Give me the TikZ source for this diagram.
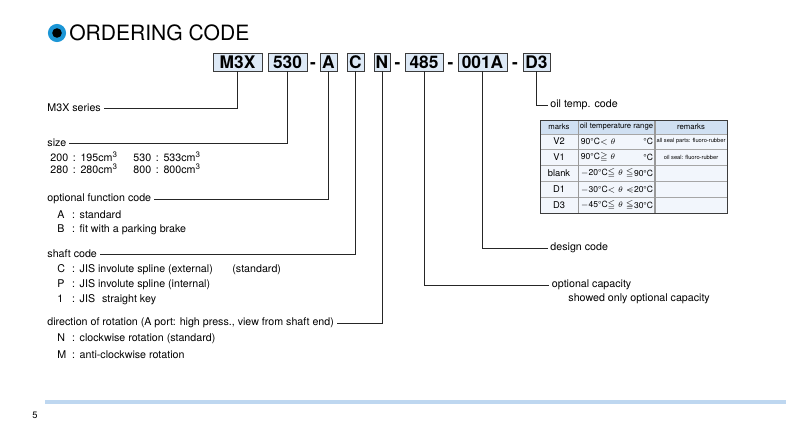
\documentclass[tikz,border=0pt]{standalone}
\usepackage{fontspec}
\usepackage{amssymb}
\setmainfont{TeX Gyre Heros}
\usetikzlibrary{calc}

\definecolor{titleblue}{RGB}{28,150,214}
\definecolor{boxblue}{RGB}{221,233,246}
\definecolor{headblue}{RGB}{208,224,242}
\definecolor{cellblue}{RGB}{242,246,252}
\definecolor{rulegray}{RGB}{60,60,60}
\definecolor{footblue}{RGB}{190,215,240}

\newcommand\coderow[2]{\makebox[11pt][l]{#1}:\hspace{3.5pt}#2}

\tikzset{
  codebox/.style={draw=rulegray, fill=boxblue, line width=0.6pt, minimum height=13.5pt,
    inner sep=0pt, text height=9.3pt, text depth=0pt, font=\fontsize{13}{13}\selectfont\bfseries},
  codedash/.style={inner sep=0pt, text height=9.3pt, text depth=0pt, font=\fontsize{13}{13}\selectfont\bfseries},
  heading/.style={anchor=west, inner xsep=2pt, inner ysep=1pt, font=\fontsize{8}{9.6}\selectfont},
  guide/.style={draw=black!85, line width=0.7pt},
  cell/.style={inner sep=0.5pt, font=\fontsize{7}{8}\selectfont},
  rangecell/.style={inner sep=0.5pt, font=\fontsize{6.4}{7}\selectfont},
  tinycell/.style={inner sep=0pt, font=\fontsize{4.3}{5}\selectfont},
}

\begin{document}
\begin{tikzpicture}[x=0.75pt, y=-0.75pt]
  \useasboundingbox (0,0) rectangle (786,429);

  % Title
  \fill[titleblue] (57,33) circle (6.8pt);
  \fill[black] (57,33) circle (3.6pt);
  \node[anchor=west, inner sep=0pt, font=\fontsize{15.8}{16}\selectfont] (title) at (69,33) {ORDERING CODE};

  % Code boxes
  \node[codebox, minimum width=36.75pt] (m3x)  at (237.5,62) {M3X};
  \node[codebox, minimum width=29.25pt] (size) at (287.5,62) {530};
  \node[codedash] (dashA) at (313,62) {-};
  \node[codebox, minimum width=12.75pt] (optf) at (328.5,62) {A};
  \node[codebox, minimum width=12.75pt] (shaft) at (355.5,62) {C};
  \node[codebox, minimum width=12pt]    (rot)  at (382,62) {N};
  \node[codedash] (dashB) at (397.5,62) {-};
  \node[codebox, minimum width=28.5pt]  (cap)  at (424,62) {485};
  \node[codedash] (dashC) at (450.5,62) {-};
  \node[codebox, minimum width=36.75pt] (design) at (482.5,62) {001A};
  \node[codedash] (dashD) at (515,62) {-};
  \node[codebox, minimum width=20.25pt] (oil)  at (536.5,62) {D3};

  % Left descriptions
  \node[heading] (series) at (44.5,108) {M3X series};
  \node[heading] (sizehd) at (44.5,143) {size};
  \node[heading] (sz1) at (47.5,157) {200\hspace{3.5pt}:\hspace{3.5pt}195cm\textsuperscript{3}};
  \node[heading] (sz2) at (47.5,169) {280\hspace{3.5pt}:\hspace{3.5pt}280cm\textsuperscript{3}};
  \node[heading] (sz3) at (130.5,157) {530\hspace{3.5pt}:\hspace{3.5pt}533cm\textsuperscript{3}};
  \node[heading] (sz4) at (130.5,169) {800\hspace{3.5pt}:\hspace{3.5pt}800cm\textsuperscript{3}};

  \node[heading] (optfhd) at (44.5,199) {optional function code};
  \node[heading] (optA) at (54.5,215) {\coderow{A}{standard}};
  \node[heading] (optB) at (54.5,230) {\coderow{B}{fit with a parking brake}};

  \node[heading] (shafthd) at (44.5,254) {shaft code};
  \node[heading] (shC) at (54.5,270) {\coderow{C}{JIS involute spline (external)}};
  \node[heading] (shCstd) at (229.5,270) {(standard)};
  \node[heading] (shP) at (54.5,285) {\coderow{P}{JIS involute spline (internal)}};
  \node[heading] (sh1) at (54.5,300) {\coderow{1}{JIS\hspace{3pt} straight key}};

  \node[heading] (rothd) at (44.5,323) {direction of rotation (A port: high press., view from shaft end)\hspace{2pt}};
  \node[heading] (rotN) at (54.5,339) {\coderow{N}{clockwise rotation (standard)}};
  \node[heading] (rotM) at (54.5,355) {\coderow{M}{anti-clockwise rotation}};

  % Right descriptions
  \node[heading] (oilhd) at (547.5,105) {oil temp. code};
  \node[heading] (designhd) at (547.5,248) {design code};
  \node[heading] (caphd) at (549,285) {optional capacity};
  \node[heading] (capnote) at (565.5,299) {showed only optional capacity};

  % Guide lines
  \draw[guide] (m3x.south) |- (series.east);
  \draw[guide] (size.south) |- (sizehd.east);
  \draw[guide] (optf.south) |- (optfhd.east);
  \draw[guide] (shaft.south) |- (shafthd.east);
  \draw[guide] (rot.south) |- (rothd.east);
  \draw[guide] (cap.south) |- (caphd.west);
  \draw[guide] (design.south) |- (designhd.west);
  \draw[guide] (oil.south) |- (oilhd.west);

  % Oil temperature table
  \fill[headblue] (540,120) rectangle (727,134);
  \fill[cellblue] (540,134) rectangle (727,213);
  \foreach \y in {134,149,165,181,197}
    \draw[gray!70, line width=0.5pt] (540,\y) -- (727,\y);
  \draw[gray!80, line width=0.5pt] (578,120) -- (578,213);
  \draw[gray!80, line width=0.9pt] (655,120) -- (655,213);
  \draw[rulegray, line width=0.6pt] (540,120) rectangle (727,213);

  \node[tinycell, font=\fontsize{5.8}{6}\selectfont] (hmarks) at (559,127) {marks};
  \node[tinycell, font=\fontsize{5.8}{6}\selectfont] (hrange) at (616.5,127) {oil temperature range};
  \node[tinycell, font=\fontsize{5.8}{6}\selectfont] (hremarks) at (691,127) {remarks};

  \foreach \m [count=\i] in {V2,V1,blank,D1,D3}
    \node[cell] (mark\i) at (559,{125.5+16*\i}) {\m};

  \foreach \lo/\hi [count=\i] in {{90°C$<\theta$}/{°C}, {90°C$\geqq\theta$}/{°C},
      {$-$20°C$\leqq\theta\leqq$}/{90°C}, {$-$30°C$<\theta<$}/{$-$20°C},
      {$-$45°C$\leqq\theta\leqq$}/{$-$30°C}} {
    \node[rangecell, anchor=west] (lo\i) at (580,{125.5+16*\i}) {\lo};
    \node[rangecell, anchor=east] (hi\i) at (654,{125.5+16*\i}) {\hi};
  }

  \node[tinycell] (rem1) at (691,141.5) {all seal parts: fluoro-rubber};
  \node[tinycell] (rem2) at (691,157.5) {oil seal: fluoro-rubber};

  % Footer
  \draw[footblue, line width=3pt] (45,402) -- (786,402);
  \node[inner sep=0pt, font=\fontsize{7}{8}\selectfont] (page) at (35,415) {5};
\end{tikzpicture}
\end{document}
